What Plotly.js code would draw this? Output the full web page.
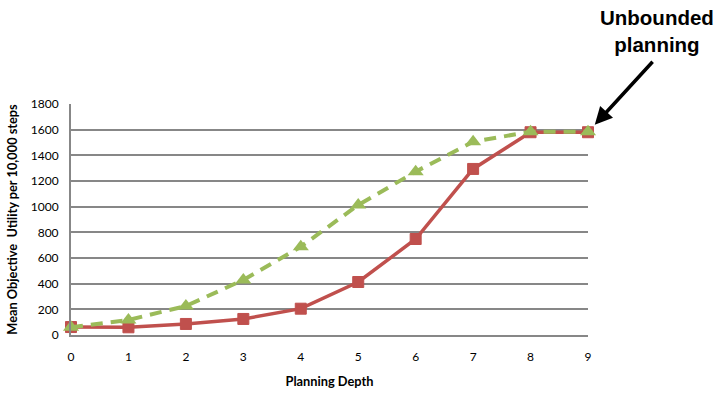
<!DOCTYPE html>
<html>
<head>
<meta charset="utf-8">
<script src="https://cdn.plot.ly/plotly-3.0.1.min.js"></script>
<style>
  html, body { margin: 0; padding: 0; background: #fff; }
  #chart { width: 723px; height: 395px; }
</style>
</head>
<body>
<div id="chart"></div>
<script>
// Planning depth on the x axis
const depths = [0, 1, 2, 3, 4, 5, 6, 7, 8, 9];
// Mean objective utility per 10,000 steps, solid red series (squares)
const utilitySquares = [62, 60, 86, 125, 205, 413, 748, 1294, 1580, 1580];
// Mean objective utility per 10,000 steps, dashed green series (triangles)
const utilityTriangles = [60, 117, 226, 429, 688, 1013, 1273, 1506, 1584, 1584];
const yTicks = [0, 200, 400, 600, 800, 1000, 1200, 1400, 1600, 1800];

const red = '#C0504D';
const green = '#9BBB59';
const grid = '#878787';
const bodyFont = 'Lato, "Open Sans", sans-serif';

const traces = [
  {
    x: depths, y: utilitySquares, type: 'scatter', mode: 'lines+markers',
    line: { color: red, width: 3.5 },
    marker: { symbol: 'square', size: 11, color: red, line: { color: red, width: 1 } },
    cliponaxis: false, showlegend: false
  },
  {
    x: depths, y: utilityTriangles, type: 'scatter', mode: 'lines+markers',
    line: { color: green, width: 4, dash: '12px,8px' },
    marker: { symbol: 'triangle-up', size: 14, color: green },
    cliponaxis: false, showlegend: false
  }
];

const layout = {
  width: 723, height: 395,
  margin: { l: 71, r: 135, t: 104, b: 60 },
  paper_bgcolor: '#fff', plot_bgcolor: '#fff',
  xaxis: {
    range: [0, 9], tickvals: depths, ticktext: depths.map(String),
    showgrid: false, zeroline: false,
    showline: true, linecolor: grid, linewidth: 2,
    ticks: 'outside', ticklen: 10, tickcolor: 'rgba(0,0,0,0)',
    tickfont: { family: bodyFont, size: 12, color: '#000' },
    title: { text: 'Planning Depth', standoff: 14,
             font: { family: bodyFont, size: 12.8, color: '#000', weight: 'bold' } },
    automargin: false, fixedrange: true
  },
  yaxis: {
    range: [0, 1800], tickvals: yTicks, ticktext: yTicks.map(String),
    showgrid: true, gridcolor: grid, gridwidth: 2, zeroline: false,
    showline: true, linecolor: grid, linewidth: 2,
    ticks: 'outside', ticklen: 8, tickcolor: 'rgba(0,0,0,0)',
    tickfont: { family: bodyFont, size: 12, color: '#000' },
    title: { text: 'Mean Objective  Utility per 10,000 steps', standoff: 10,
             font: { family: bodyFont, size: 12.8, color: '#000', weight: 'bold' } },
    automargin: false, fixedrange: true
  },
  annotations: [
    {
      x: 9, y: 1580, xref: 'x', yref: 'y',
      text: '', showarrow: true,
      ax: 66, ay: -72, axref: 'pixel', ayref: 'pixel',
      arrowhead: 2, arrowsize: 1, arrowwidth: 3.5, arrowcolor: '#000',
      standoff: 10
    },
    {
      x: 1.134, y: 1.316, xref: 'paper', yref: 'paper',
      xanchor: 'center', yanchor: 'middle', showarrow: false,
      text: '<b>Unbounded</b><br><b>planning</b>',
      font: { family: '"Liberation Sans", Arial, sans-serif', size: 20.5, color: '#000' }
    }
  ]
};

Plotly.newPlot('chart', traces, layout, { displayModeBar: false, staticPlot: true });
</script>
</body>
</html>
